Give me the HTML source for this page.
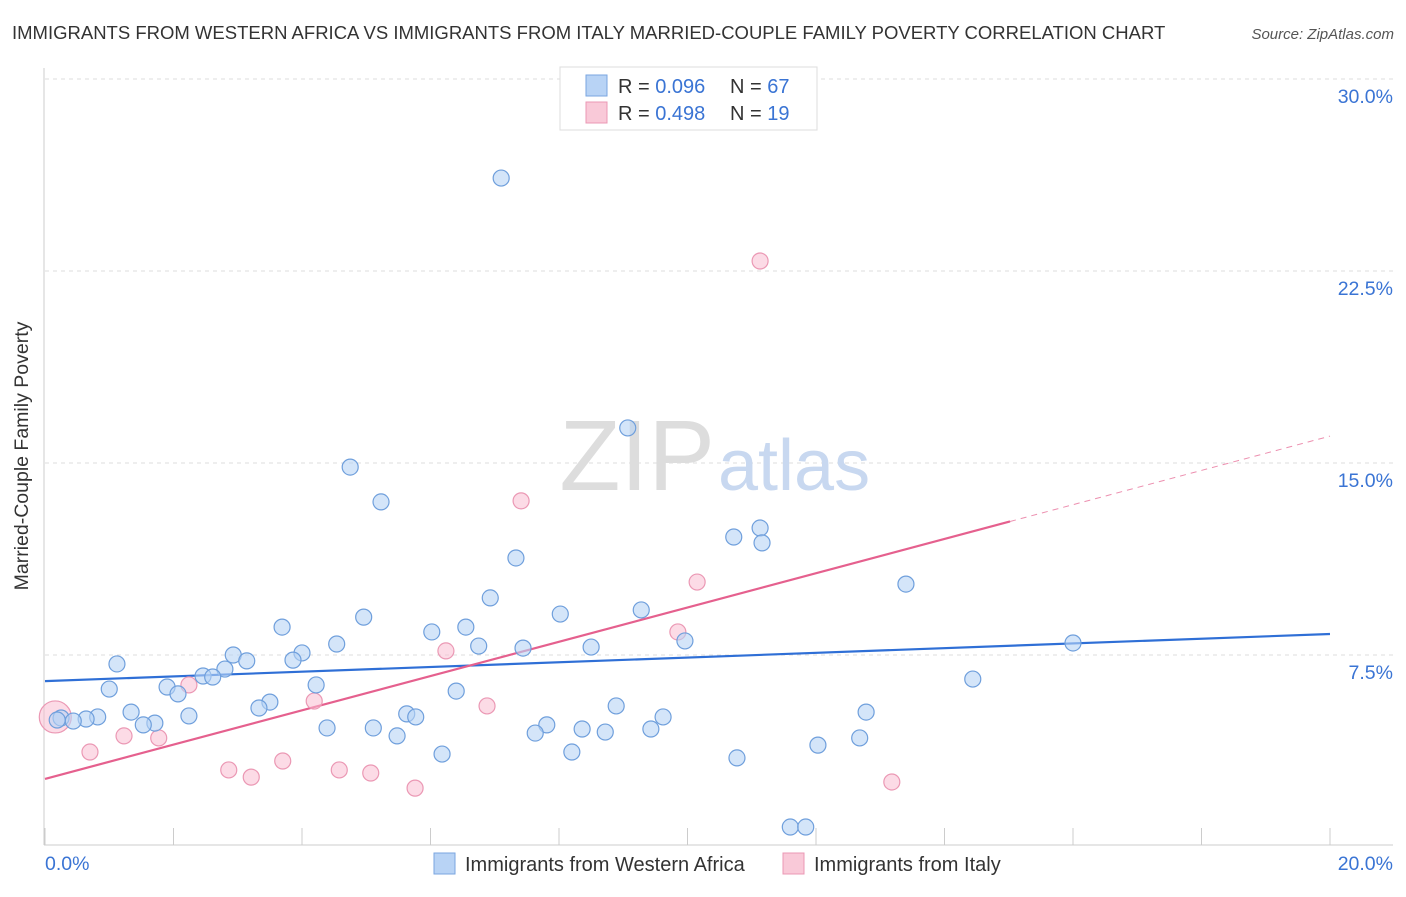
<!DOCTYPE html>
<html><head><meta charset="utf-8"><style>
body{margin:0;background:#fff;font-family:"Liberation Sans",sans-serif;}
svg text{font-family:"Liberation Sans",sans-serif;}
</style></head><body>
<svg width="1406" height="892" xmlns="http://www.w3.org/2000/svg">
<text x="12" y="39" font-size="18.5" fill="#333">IMMIGRANTS FROM WESTERN AFRICA VS IMMIGRANTS FROM ITALY MARRIED-COUPLE FAMILY POVERTY CORRELATION CHART</text>
<text x="1394" y="39" font-size="15" fill="#555" font-style="italic" text-anchor="end">Source: ZipAtlas.com</text>
<g id="grid"></g>
<text x="715" y="490" font-size="100" fill="#ddd" text-anchor="end" font-family="Liberation Serif">ZIP</text>
<text x="718" y="490" font-size="72" fill="#c8d8f0">atlas</text>
<g id="axes"></g>
<g id="lines"></g>
<g id="points"></g>
<text x="28" y="456" font-size="19.5" fill="#333" text-anchor="middle" transform="rotate(-90 28 456)">Married-Couple Family Poverty</text>
<g>
<rect x="560" y="67" width="257" height="63" fill="#fff" stroke="#ddd"/>
<rect x="586" y="75" width="21" height="21" fill="#b8d3f5" stroke="#7aa6e0"/>
<rect x="586" y="102" width="21" height="21" fill="#f9c9d8" stroke="#eb98b4"/>
<text x="618" y="93" font-size="20" fill="#333">R = <tspan fill="#3a74d4">0.096</tspan><tspan x="730">N = </tspan><tspan fill="#3a74d4">67</tspan></text>
<text x="618" y="120" font-size="20" fill="#333">R = <tspan fill="#3a74d4">0.498</tspan><tspan x="730">N = </tspan><tspan fill="#3a74d4"> 19</tspan></text>
</g>
<g>
<rect x="434" y="853" width="21" height="21" fill="#b8d3f5" stroke="#7aa6e0"/>
<text x="465" y="871" font-size="20" fill="#333">Immigrants from Western Africa</text>
<rect x="783" y="853" width="21" height="21" fill="#f9c9d8" stroke="#eb98b4"/>
<text x="814" y="871" font-size="20" fill="#333">Immigrants from Italy</text>
</g>
</svg>
<script>
const blueX=[7.10,9.07,4.75,5.23,11.13,10.72,11.16,7.33,13.40,6.93,8.02,9.28,4.96,3.69,6.02,6.55,16.00,9.96,4.54,6.75,7.44,8.50,4.00,2.93,1.12,3.14,3.86,2.80,2.46,2.61,14.44,1.00,1.90,4.22,2.07,6.40,3.50,3.33,8.89,12.78,1.34,5.63,5.77,2.24,9.62,0.82,0.64,0.25,0.44,0.19,1.71,1.53,4.39,5.11,7.81,8.36,9.43,8.72,7.63,5.48,12.68,12.03,8.20,6.18,10.77,11.60,11.84];
const blueY=[26.13,16.37,14.84,13.48,12.46,12.11,11.88,11.29,10.27,9.73,9.10,9.26,8.98,8.59,8.40,8.59,7.97,8.05,7.93,7.85,7.77,7.81,7.58,7.50,7.15,7.27,7.30,6.95,6.68,6.64,6.56,6.17,6.25,6.33,5.98,6.09,5.66,5.43,5.51,5.27,5.27,5.20,5.08,5.12,5.08,5.08,5.00,5.04,4.92,4.96,4.84,4.77,4.65,4.65,4.77,4.61,4.61,4.49,4.45,4.34,4.26,3.98,3.71,3.63,3.48,0.78,0.78];
const pinkX=[11.13,7.41,10.15,9.85,6.24,2.24,4.19,6.88,1.23,1.77,0.70,2.86,3.21,3.70,4.58,5.07,5.76,13.18,0.16];
const pinkY=[22.89,13.52,10.35,8.40,7.66,6.33,5.70,5.51,4.34,4.26,3.71,3.01,2.73,3.36,3.01,2.89,2.30,2.54,5.08];
const blueTrend=[6.48,8.32];
const pinkTrend=[2.66,16.05];
const pinkSolidEnd=15.02;
const yTicks=[7.5,15.0,22.5,30.0];
const xTickVals=[0,2,4,6,8,10,12,14,16,18,20];
const NS="http://www.w3.org/2000/svg";
const X=v=>45+v/20*1285, Y=v=>847-v*25.6;
function mk(tag,attrs,parent){const e=document.createElementNS(NS,tag);for(const k in attrs)e.setAttribute(k,attrs[k]);parent.appendChild(e);return e;}
const grid=document.getElementById('grid'),axes=document.getElementById('axes'),lines=document.getElementById('lines'),pts=document.getElementById('points');
yTicks.forEach(t=>{
 const l=mk('line',{x1:45,x2:1393,y1:Y(t),y2:Y(t),stroke:'#ddd','stroke-dasharray':'4,4'},grid);
 
 
 const tx=mk('text',{x:1393,y:Y(t)+24,'font-size':19.5,fill:'#3a74d4','text-anchor':'end'},axes);
 tx.textContent=t.toFixed(1)+'%';
 
 
});
const al=mk('line',{x1:44,x2:44,y1:68,y2:845,stroke:'#ccc'},axes);


const bl=mk('line',{x1:44,x2:1393,y1:845,y2:845,stroke:'#ccc'},axes);


xTickVals.forEach(t=>{
 const l=mk('line',{x1:X(t),x2:X(t),y1:828,y2:845,stroke:'#ccc'},axes);
 
 
});
[[0,45,'start'],[20,1393,'end']].forEach(([v,x,a])=>{
 const tx=mk('text',{x:x,y:870,'font-size':19.5,fill:'#3a74d4','text-anchor':a},axes);
 tx.textContent=v.toFixed(1)+'%';
 
 
});
function circ(x,y,fill,stroke,r,name){
 const c=mk('circle',{cx:X(x),cy:Y(y),r:r,fill:fill,stroke:stroke,'stroke-width':1.2},pts);
 
 
}
pinkX.forEach((x,i)=>circ(x,pinkY[i],'rgba(249,190,210,0.55)','#eb98b4',i==pinkX.length-1?16:8,'point-italy'));
blueX.forEach((x,i)=>circ(x,blueY[i],'rgba(184,211,245,0.6)','#6f9fdc',8,'point-western-africa'));
const b=mk('line',{x1:X(0),y1:Y(blueTrend[0]),x2:X(20),y2:Y(blueTrend[1]),stroke:'#2f6fd6','stroke-width':2.2},lines);


const ps=v=>pinkTrend[0]+(pinkTrend[1]-pinkTrend[0])*v/20;
const p=mk('line',{x1:X(0),y1:Y(ps(0)),x2:X(pinkSolidEnd),y2:Y(ps(pinkSolidEnd)),stroke:'#e5608e','stroke-width':2.2},lines);


const pd=mk('line',{x1:X(pinkSolidEnd),y1:Y(ps(pinkSolidEnd)),x2:X(20),y2:Y(ps(20)),stroke:'#e5608e','stroke-width':1,'stroke-dasharray':'6,5',opacity:0.7},lines);


</script>
</body></html>
